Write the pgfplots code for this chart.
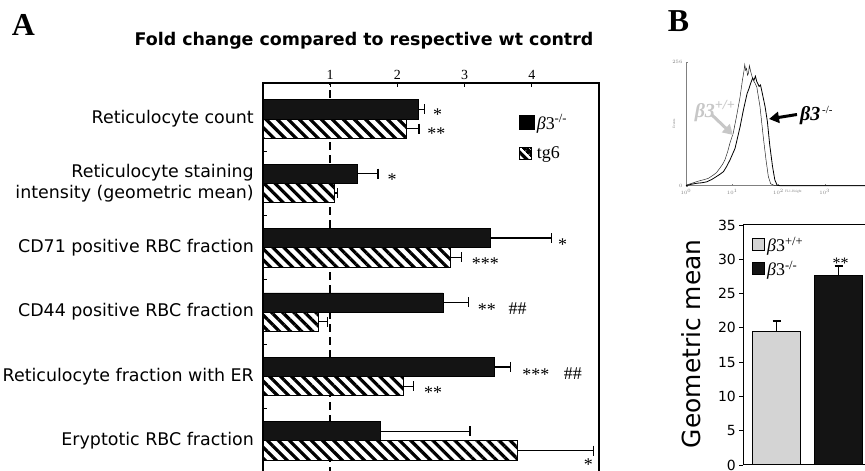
\documentclass[border=0pt]{standalone}
\usepackage{pgfplots}
\pgfplotsset{compat=1.18}
\usepackage{fontspec}
\setmainfont{Liberation Serif}
\newfontfamily\vsans{DejaVu Sans}
\usetikzlibrary{patterns.meta,arrows.meta}
\definecolor{barblack}{gray}{0.08}
\definecolor{bargray}{gray}{0.83}
\definecolor{lightlab}{gray}{0.78}
\begin{document}
\begin{tikzpicture}[x=1bp,y=1bp]
\useasboundingbox (0,0) rectangle (865,471);
% panel letters
\node[font=\fontsize{32}{32}\selectfont\bfseries, inner sep=0pt] at (23.5,446.5) {A};
\node[font=\fontsize{32}{32}\selectfont\bfseries, inner sep=0pt] at (678.5,449.5) {B};
% title
\node[font=\vsans\bfseries\fontsize{17.5}{17.5}\selectfont, inner sep=0pt] at (364,430) {Fold change compared to respective wt contrd};

% ---------------- Panel A ----------------
\begin{axis}[
  at={(263bp,388bp)}, anchor=north west,
  scale only axis, width=336bp, height=392bp,
  xmin=0, xmax=5, ymin=-0.53, ymax=5.56,
  axis line style={line width=1.2bp},
  xtick={1,2,3,4}, xticklabel pos=upper, xtick pos=upper,
  ytick={0.5,1.5,2.5,3.5,4.5}, yticklabels={}, ytick pos=left,
  tick style={black, line width=1bp},
  major tick length=4bp,
  tick label style={font=\fontsize{14}{14}\selectfont},
  /pgf/number format/assume math mode=true,
  clip=false,
  legend style={at={(0.759,0.925)}, anchor=north west, draw=none, fill=none,
     inner sep=0pt, font=\fontsize{18}{18}\selectfont, row sep=12bp},
  legend cell align=left,
]
\addplot[black, line width=1.5bp, dash pattern=on 8bp off 5bp, forget plot] coordinates {(1,-0.53) (1,5.56)};
\addplot[xbar, bar width=0.3, fill=barblack, draw=black, line width=0.6bp,
  legend image code/.code={\fill[black] (0bp,-7bp) rectangle (15bp,7bp);},
  error bars/.cd, x dir=plus, x explicit,
  error bar style={line width=1.3bp, black},
  error mark options={rotate=90, mark size=5bp, line width=1.3bp, black}]
coordinates {
(2.31,5.15) +- (0.09,0)
(1.41,4.15) +- (0.30,0)
(3.38,3.15) +- (0.91,0)
(2.68,2.15) +- (0.38,0)
(3.44,1.15) +- (0.24,0)
(1.75,0.15) +- (1.33,0)
};
\addlegendentry{{\itshape β}3\textsuperscript{-/-}}
\addplot[xbar, bar width=0.3, fill=white, draw=black, line width=0.8bp,
  postaction={pattern={Lines[angle=-45,distance=7.8bp,line width=3.2bp]}, pattern color=black},
  legend image code/.code={\draw[black, line width=0.8bp, fill=white, postaction={pattern={Lines[angle=-45,distance=6bp,line width=2.6bp]}}] (0bp,-6bp) rectangle (12bp,6bp);},
  error bars/.cd, x dir=plus, x explicit,
  error bar style={line width=1.3bp, black},
  error mark options={rotate=90, mark size=5bp, line width=1.3bp, black}]
coordinates {
(2.13,4.85) +- (0.19,0)
(1.06,3.85) +- (0.05,0)
(2.79,2.85) +- (0.16,0)
(0.82,1.85) +- (0.14,0)
(2.09,0.85) +- (0.15,0)
(3.78,-0.15) +- (1.14,0)
};
\addlegendentry{tg6}
% category labels
\begin{scope}[every node/.style={anchor=east, xshift=-9bp, inner sep=0pt, font=\vsans\fontsize{17.5}{21}\selectfont}]
\node at (axis cs:0,5) {Reticulocyte count};
\node[align=right] at (axis cs:0,4) {Reticulocyte staining\\intensity (geometric mean)};
\node at (axis cs:0,3) {CD71 positive RBC fraction};
\node at (axis cs:0,2) {CD44 positive RBC fraction};
\node at (axis cs:0,1) {Reticulocyte fraction with ER};
\node at (axis cs:0,0) {Eryptotic RBC fraction};
\end{scope}
% significance marks
\begin{scope}[every node/.style={inner sep=0pt, font=\fontsize{18}{18}\selectfont}]
\node[yshift=-3bp] at (axis cs:2.60,5.11) {*};
\node[yshift=-3bp] at (axis cs:2.58,4.82) {**};
\node[yshift=-3bp] at (axis cs:1.92,4.10) {*};
\node[yshift=-3bp] at (axis cs:4.46,3.09) {*};
\node[yshift=-3bp] at (axis cs:3.31,2.80) {***};
\node[yshift=-3bp] at (axis cs:3.33,2.09) {**};
\node at (axis cs:3.79,2.05) {\#\#};
\node[yshift=-3bp] at (axis cs:4.06,1.08) {***};
\node at (axis cs:4.61,1.04) {\#\#};
\node[yshift=-3bp] at (axis cs:2.53,0.79) {**};
\node[yshift=-3bp] at (axis cs:4.84,-0.33) {*};
\end{scope}
\end{axis}

% ---------------- Panel B top: histogram ----------------
\begin{axis}[
  at={(686bp,285.3bp)}, anchor=south west,
  scale only axis, width=185bp, height=124bp,
  xmin=0, xmax=4, ymin=0, ymax=256,
  axis x line*=bottom, axis y line*=left,
  axis line style={gray, line width=0.4bp, -},
  xtick={0,1,2,3,4}, xticklabels={$10^0$,$10^1$,$10^2$,$10^3$,$10^4$},
  ytick={0,256},
  tick style={gray, line width=0.3bp}, major tick length=1.5bp,
  tick label style={font=\fontsize{3.5}{4}\selectfont, gray},
  xlabel={FL1-Height}, ylabel={Events},
  xlabel style={font=\fontsize{3.5}{4}\selectfont, gray, at={(axis description cs:0.58,0)}, anchor=north, yshift=-1bp},
  ylabel style={font=\fontsize{3.5}{4}\selectfont, gray, at={(axis description cs:-0.04,0.5)}},
  clip=false,
]
\addplot[black!85, line width=0.5bp] coordinates {
(0,0) (0.01,1.4) (0.16,6) (0.25,9) (0.37,12) (0.48,15) (0.59,22) (0.66,27) (0.73,36) (0.79,44) (0.84,53) (0.90,70) (0.95,88) (1.02,108)
(1.09,142) (1.17,184) (1.22,218) (1.25,235) (1.27,250) (1.29,238) (1.31,242) (1.33,228)
(1.35,232) (1.37,248) (1.40,235) (1.45,218) (1.49,212) (1.53,204) (1.60,163) (1.67,101)
(1.73,53) (1.78,19) (1.83,4) (1.92,0) (4,0)
};
\addplot[black, line width=0.8bp] coordinates {
(0,0) (0.12,3) (0.23,5) (0.34,6) (0.45,8) (0.56,13) (0.66,19) (0.74,24) (0.81,29) (0.88,40) (0.95,53) (1.06,77) (1.17,122)
(1.24,156) (1.32,190) (1.36,200) (1.40,212) (1.44,222) (1.47,218) (1.50,226) (1.53,215)
(1.58,205) (1.61,208) (1.64,195) (1.71,163) (1.76,132) (1.81,84) (1.87,40) (1.92,12)
(1.97,1) (2.03,0) (4,0)
};
\end{axis}
% histogram annotations
\node[font=\fontsize{20}{20}\selectfont\bfseries\itshape, text=lightlab, inner sep=0pt] at (715,360) {β3\textsuperscript{+/+}};
\draw[lightlab, line width=3bp, -{Triangle[length=10bp,width=11bp]}] (712,356) -- (733,336);
\node[font=\fontsize{20}{20}\selectfont\bfseries\itshape, inner sep=0pt, anchor=west] at (800,355) {β3};
\node[font=\fontsize{11}{11}\selectfont, inner sep=0pt, anchor=west] at (822,361) {-/-};
\draw[black, line width=3bp, -{Triangle[length=10bp,width=11bp]}] (797,356.5) -- (769,352);

% ---------------- Panel B bottom: bar chart ----------------
\begin{axis}[
  at={(743.3bp,6bp)}, anchor=south west,
  scale only axis, width=130bp, height=240bp,
  xmin=-0.54, xmax=1.56, ymin=0, ymax=35,
  ytick={0,5,...,35}, xtick=\empty, ytick pos=left,
  tick align=outside, major tick length=4bp,
  axis line style={line width=1bp},
  tick style={black, line width=0.8bp},
  tick label style={font=\vsans\fontsize{14}{14}\selectfont},
  /pgf/number format/assume math mode=true,
  ylabel={Geometric mean},
  ylabel style={font=\vsans\fontsize{25}{25}\selectfont, at={(axis description cs:-0.397,0.505)}, anchor=center},
  clip=false,
  legend style={at={(0.068,0.96)}, anchor=north west, draw=none, fill=none,
     inner sep=0pt, font=\fontsize{18}{18}\selectfont, row sep=4bp},
  legend cell align=left,
]
\addplot[ybar, bar width=0.78, fill=bargray, draw=black, line width=1bp,
  legend image code/.code={\draw[black, line width=0.8bp, fill=bargray] (0bp,-6bp) rectangle (12bp,6bp);},
  error bars/.cd, y dir=plus, y explicit,
  error bar style={line width=1.4bp, black},
  error mark options={rotate=90, mark size=4bp, line width=1.4bp, black}]
coordinates {(0,19.4) +- (0,1.6)};
\addlegendentry{{\itshape β}3\textsuperscript{+/+}}
\addplot[ybar, bar width=0.78, fill=barblack, draw=black, line width=1bp,
  legend image code/.code={\draw[black, line width=0.8bp, fill=barblack] (0bp,-6bp) rectangle (12bp,6bp);},
  error bars/.cd, y dir=plus, y explicit,
  error bar style={line width=1.4bp, black},
  error mark options={rotate=90, mark size=4bp, line width=1.4bp, black}]
coordinates {(1,27.7) +- (0,1.3)};
\addlegendentry{{\itshape β}3\textsuperscript{-/-}}
\node[font=\fontsize{16}{16}\selectfont, inner sep=0pt, yshift=-3bp] at (axis cs:1.03,29.9) {**};
\end{axis}
\end{tikzpicture}
\end{document}
